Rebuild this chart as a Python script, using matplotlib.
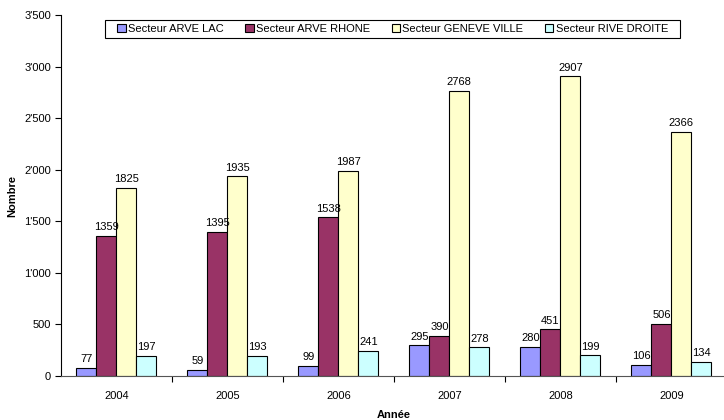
import numpy as np
import matplotlib
matplotlib.use('Agg')
from matplotlib import pyplot as plt
from matplotlib.patches import Rectangle
from matplotlib.ticker import FuncFormatter

plt.rcParams['font.family'] = ['Liberation Sans', 'DejaVu Sans']

# Data
years = ['2004', '2005', '2006', '2007', '2008', '2009']
series_names = ['Secteur ARVE LAC', 'Secteur ARVE RHONE',
                'Secteur GENEVE VILLE', 'Secteur RIVE DROITE']
arve_lac = [77, 59, 99, 295, 280, 106]
arve_rhone = [1359, 1395, 1538, 390, 451, 506]
geneve_ville = [1825, 1935, 1987, 2768, 2907, 2366]
rive_droite = [197, 193, 241, 278, 199, 134]

colors = ['#9999FF', '#993366', '#FFFFCC', '#CCFFFF']
fs = 8

fig = plt.figure(figsize=(7.24, 4.2), dpi=100)
ax = fig.add_axes([0.084, 0.105, 0.92, 0.859])

x = np.arange(len(years))
w = 0.18
all_series = [arve_lac, arve_rhone, geneve_ville, rive_droite]
for i, (vals, name, c) in enumerate(zip(all_series, series_names, colors)):
    pos = x + (i - 1.5) * w
    ax.bar(pos, vals, w, color=c, edgecolor='black', linewidth=0.8, label=name)
    for p, v in zip(pos, vals):
        ax.text(p, v + 35, str(v), ha='center', va='bottom', fontsize=fs)

ax.set_xlim(-0.5, len(years) - 0.5)
ax.set_ylim(0, 3500)
ax.set_yticks(range(0, 3501, 500))
ax.yaxis.set_major_formatter(FuncFormatter(lambda v, _: f"{int(v):,}".replace(',', "'")))

ax.set_xticks(x)
ax.set_xticklabels(years)
ax.set_xticks(np.arange(0.5, len(years) - 0.5), minor=True)
ax.tick_params(axis='x', which='major', length=0, pad=11, labelsize=fs)
ax.tick_params(axis='x', which='minor', length=4, direction='out', width=0.8)
ax.tick_params(axis='y', length=4, width=0.8, labelsize=fs, pad=3)

for s in ['top', 'right']:
    ax.spines[s].set_visible(False)
ax.spines['left'].set_linewidth(0.8)
ax.spines['bottom'].set_linewidth(0.8)
ax.spines['left'].set_color('black')
ax.spines['bottom'].set_color('#555555')

ax.set_ylabel('Nombre', fontsize=fs, fontweight='bold', labelpad=5)
ax.set_xlabel('Année', fontsize=fs, fontweight='bold', labelpad=6)

leg = ax.legend(ncol=4, loc='upper left', bbox_to_anchor=(0.070, 1.003),
                fontsize=fs, frameon=False,
                handlelength=0.75, handleheight=0.75, handletextpad=0.2,
                columnspacing=1.95, borderpad=0.4)
leg.set_zorder(6)

# legend box with wider side padding, drawn around the legend
fig.canvas.draw()
bb = leg.get_window_extent().transformed(fig.transFigure.inverted())
padx = 8 / 724
ax.add_patch(Rectangle((bb.x0 - padx, bb.y0), bb.width + 2 * padx, bb.height,
                       transform=fig.transFigure, clip_on=False,
                       facecolor='white', edgecolor='black', linewidth=0.8,
                       zorder=5))

fig.savefig('out.png', dpi=100)
